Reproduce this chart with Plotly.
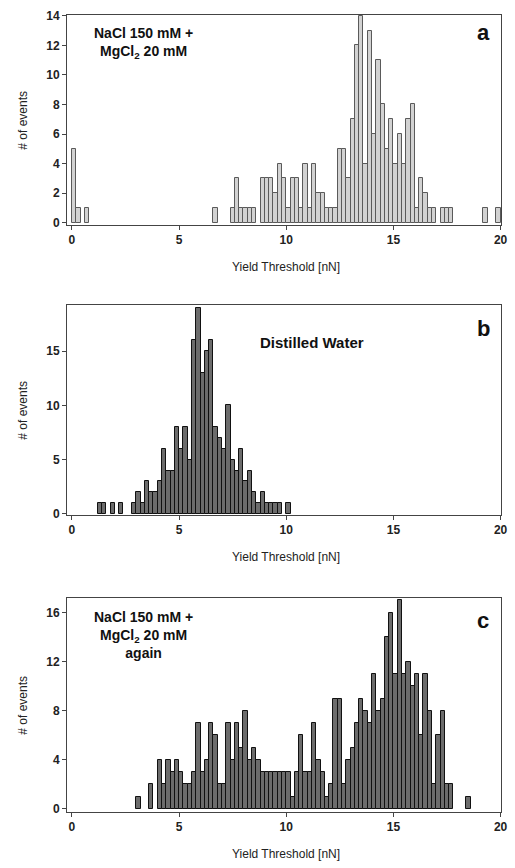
import plotly.graph_objects as go

# ---------------- data ----------------
# bin centres (nN) and number of events, bin width 0.2 nN
a_x = [0.1, 0.3, 0.7, 6.7, 7.5, 7.7, 7.9, 8.1, 8.3, 8.5, 8.9, 9.1, 9.3, 9.5, 9.7, 9.9,
       10.1, 10.3, 10.5, 10.7, 10.9, 11.1, 11.3, 11.5, 11.7, 11.9, 12.1, 12.3, 12.5, 12.7, 12.9,
       13.1, 13.3, 13.5, 13.7, 13.9, 14.1, 14.3, 14.5, 14.7, 14.9, 15.1, 15.3, 15.5, 15.7, 15.9,
       16.1, 16.3, 16.5, 16.7, 16.9, 17.3, 17.5, 17.7, 19.3, 19.9]
a_y = [5, 1, 1, 1, 1, 3, 1, 1, 1, 1, 3, 3, 3, 2, 4, 3,
       1, 3, 3, 1, 4, 1, 4, 2, 2, 1, 1, 1, 5, 5, 3,
       7, 12, 14, 4, 13, 6, 11, 8, 5, 7, 4, 6, 4, 7, 8,
       1, 3, 2, 1, 1, 1, 1, 1, 1, 1]

b_x = [1.3, 1.5, 1.9, 2.3, 2.9, 3.1, 3.3, 3.5, 3.7, 3.9, 4.1, 4.3, 4.5, 4.7, 4.9,
       5.1, 5.3, 5.5, 5.7, 5.9, 6.1, 6.3, 6.5, 6.7, 6.9, 7.1, 7.3, 7.5, 7.7, 7.9,
       8.1, 8.3, 8.5, 8.7, 8.9, 9.1, 9.3, 9.5, 9.7, 10.1]
b_y = [1, 1, 1, 1, 1, 2, 1, 3, 2, 2, 3, 6, 4, 4, 8,
       6, 8, 5, 16, 19, 13, 15, 16, 8, 7, 6, 10, 5, 4, 6,
       3, 4, 2, 1, 2, 1, 1, 1, 1, 1]

c_x = [3.1, 3.7, 4.1, 4.3, 4.5, 4.7, 4.9, 5.1, 5.3, 5.5, 5.7, 5.9, 6.1, 6.3, 6.5, 6.7, 6.9,
       7.1, 7.3, 7.5, 7.7, 7.9, 8.1, 8.3, 8.5, 8.7, 8.9, 9.1, 9.3, 9.5, 9.7, 9.9,
       10.1, 10.3, 10.5, 10.7, 10.9, 11.1, 11.3, 11.5, 11.7, 11.9, 12.1, 12.3, 12.5, 12.7, 12.9,
       13.1, 13.3, 13.5, 13.7, 13.9, 14.1, 14.3, 14.5, 14.7, 14.9, 15.1, 15.3, 15.5, 15.7, 15.9,
       16.1, 16.3, 16.5, 16.7, 16.9, 17.1, 17.3, 17.5, 17.7, 18.5]
c_y = [1, 2, 4, 2, 4, 3, 4, 3, 2, 2, 3, 7, 3, 4, 7, 6, 2,
       2, 7, 4, 7, 5, 8, 4, 5, 4, 3, 3, 3, 3, 3, 3,
       3, 1, 3, 6, 3, 3, 7, 4, 3, 1, 2, 9, 9, 2, 4,
       5, 7, 9, 8, 7, 11, 8, 9, 14, 16, 11, 17, 11, 12, 10,
       11, 6, 11, 8, 2, 6, 8, 2, 2, 1]

BIN_W = 0.2
x_ticks = [0, 5, 10, 15, 20]
a_ticks = [0, 2, 4, 6, 8, 10, 12, 14]
b_ticks = [0, 5, 10, 15]
c_ticks = [0, 4, 8, 12, 16]
x_title = "Yield Threshold [nN]"
y_title = "# of events"

# ---------------- figure ----------------
W, H = 515, 868
L, R, T, B = 67, 7, 15, 56
plot_h = H - T - B


def py(px):
    """pixel y (from top) -> paper fraction"""
    return (H - B - px) / plot_h


def px_x(px):
    return (px - L) / (W - L - R)


dom_a = [py(225), py(15)]
dom_b = [py(515), py(305)]
dom_c = [py(812), py(598)]

fig = go.Figure()
FONT = "Liberation Sans, Arial, sans-serif"

fig.add_trace(go.Bar(x=a_x, y=a_y, width=BIN_W, xaxis="x", yaxis="y",
                     marker=dict(color="#d2d2d2", line=dict(color="#5a5a5a", width=1))))
fig.add_trace(go.Bar(x=b_x, y=b_y, width=BIN_W, xaxis="x2", yaxis="y2",
                     marker=dict(color="#6c6c6c", line=dict(color="#111111", width=1))))
fig.add_trace(go.Bar(x=c_x, y=c_y, width=BIN_W, xaxis="x3", yaxis="y3",
                     marker=dict(color="#6c6c6c", line=dict(color="#111111", width=1))))

xcommon = dict(range=[-0.23, 20.02], tickvals=x_ticks, ticks="outside", ticklen=4,
               showline=True, mirror=True, linecolor="#444", linewidth=1,
               showgrid=False, zeroline=False, domain=[0, 1],
               tickfont=dict(family=FONT, size=12, color="#222", weight="bold"))
ycommon = dict(ticks="outside", ticklen=4, showline=True, mirror=True,
               linecolor="#444", linewidth=1, showgrid=False, zeroline=False,
               tickfont=dict(family=FONT, size=12, color="#222", weight="bold"))

fig.update_layout(
    width=W, height=H, margin=dict(l=L, r=R, t=T, b=B),
    paper_bgcolor="white", plot_bgcolor="white", showlegend=False,
    bargap=0,
    xaxis=dict(**xcommon, anchor="y"),
    xaxis2=dict(**xcommon, anchor="y2"),
    xaxis3=dict(**xcommon, anchor="y3"),
    yaxis=dict(**ycommon, domain=dom_a, range=[-0.15, 14.05], tickvals=a_ticks, anchor="x"),
    yaxis2=dict(**ycommon, domain=dom_b, range=[-0.1, 19.25], tickvals=b_ticks, anchor="x2"),
    yaxis3=dict(**ycommon, domain=dom_c, range=[-0.25, 17.2], tickvals=c_ticks, anchor="x3"),
    font=dict(family=FONT),
)

ann = []
# x titles
for axis_px in (225, 515, 812):
    ann.append(dict(text=x_title, xref="paper", yref="paper", x=px_x(290), y=py(axis_px + 42),
                    showarrow=False, font=dict(family=FONT, size=12, color="#222"),
                    xanchor="center", yanchor="middle"))
# y titles
for top, bot in ((15, 225), (305, 515), (598, 812)):
    ann.append(dict(text=y_title, xref="paper", yref="paper", x=px_x(22), y=py((top + bot) / 2),
                    showarrow=False, textangle=-90, font=dict(family=FONT, size=12, color="#222"),
                    xanchor="center", yanchor="middle"))
# panel labels
for lab, ypx in (("a", 33), ("b", 328), ("c", 620)):
    ann.append(dict(text="<b>%s</b>" % lab, xref="paper", yref="paper", x=px_x(490), y=py(ypx),
                    showarrow=False, font=dict(family=FONT, size=22, color="#111"),
                    xanchor="center", yanchor="middle"))
# condition texts
ann.append(dict(text="<b>NaCl 150 mM +</b><br><b>MgCl<sub>2</sub> 20 mM</b>", xref="paper", yref="paper",
                x=px_x(145), y=py(43), showarrow=False, align="center",
                font=dict(family=FONT, size=14, color="#111"), xanchor="center", yanchor="middle"))
ann.append(dict(text="<b>Distilled Water</b>", xref="paper", yref="paper",
                x=px_x(316), y=py(342), showarrow=False,
                font=dict(family=FONT, size=15, color="#111"), xanchor="center", yanchor="middle"))
ann.append(dict(text="<b>NaCl 150 mM +</b><br><b>MgCl<sub>2</sub> 20 mM</b><br><b>again</b>",
                xref="paper", yref="paper",
                x=px_x(145), y=py(635), showarrow=False, align="center",
                font=dict(family=FONT, size=14, color="#111"), xanchor="center", yanchor="middle"))
fig.update_layout(annotations=ann)

fig.write_html("out.html")
